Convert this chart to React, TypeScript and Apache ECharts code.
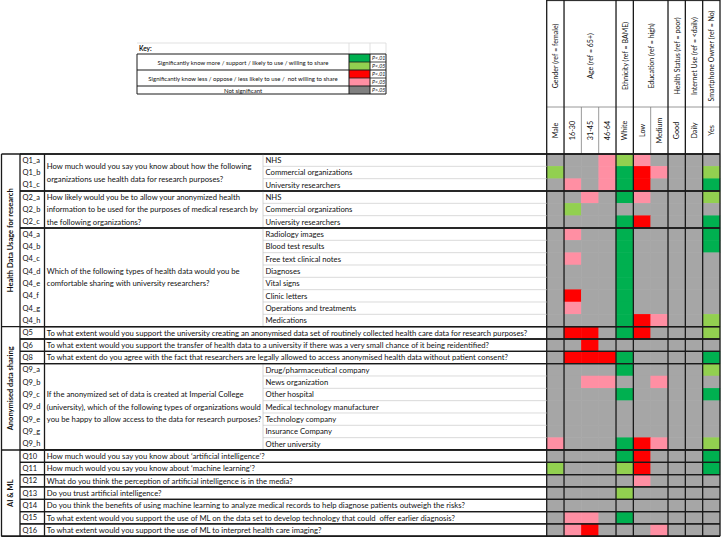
import React, { useEffect, useRef } from "react";
import * as echarts from "echarts";

// ---------- data ----------
const columns = ["Male", "16-30", "31-45", "46-64", "White", "Low", "Medium", "Good", "Daily", "Yes"];
const groupHeaders = [
  "Gender (ref = female)",
  "Age (ref = 65+)",
  "Ethnicity (ref = BAME)",
  "Education (ref = high)",
  "Health Status (ref = poor)",
  "Internet Use (ref = <daily)",
  "Smartphone Owner (ref = No)",
];
const groupSpans = [1, 3, 1, 2, 1, 1, 1];

const rowCodes = [
  "Q1_a", "Q1_b", "Q1_c", "Q2_a", "Q2_b", "Q2_c",
  "Q4_a", "Q4_b", "Q4_c", "Q4_d", "Q4_e", "Q4_f", "Q4_g", "Q4_h",
  "Q5", "Q6", "Q8",
  "Q9_a", "Q9_b", "Q9_c", "Q9_d", "Q9_e", "Q9_g", "Q9_h",
  "Q10", "Q11", "Q12", "Q13", "Q14", "Q15", "Q16",
];

// 0 = not significant, 1 = more p<.01, 2 = more p<.05, 3 = less p<.01, 4 = less p<.05
const sig = [
  [0, 0, 0, 4, 2, 4, 0, 0, 0, 0],
  [2, 0, 0, 4, 1, 3, 4, 0, 0, 2],
  [0, 4, 0, 4, 1, 3, 0, 0, 0, 1],
  [0, 0, 4, 0, 1, 4, 0, 0, 0, 2],
  [0, 2, 0, 0, 0, 0, 0, 0, 0, 0],
  [0, 0, 0, 0, 1, 3, 0, 0, 0, 1],
  [0, 4, 0, 0, 1, 0, 0, 0, 0, 1],
  [0, 0, 0, 0, 1, 0, 0, 0, 0, 1],
  [0, 4, 0, 0, 1, 0, 0, 0, 0, 0],
  [0, 0, 0, 0, 1, 0, 0, 0, 0, 0],
  [0, 0, 0, 0, 1, 0, 0, 0, 0, 0],
  [0, 3, 0, 0, 1, 0, 0, 0, 0, 0],
  [0, 4, 0, 0, 1, 0, 0, 0, 0, 0],
  [0, 0, 0, 0, 1, 3, 4, 0, 0, 2],
  [0, 3, 3, 0, 1, 3, 0, 0, 0, 2],
  [0, 0, 3, 0, 0, 0, 0, 0, 0, 0],
  [0, 3, 3, 3, 1, 0, 0, 0, 0, 1],
  [0, 0, 0, 0, 1, 0, 0, 0, 0, 2],
  [0, 0, 4, 4, 0, 0, 4, 0, 0, 0],
  [0, 0, 0, 0, 1, 0, 0, 0, 0, 1],
  [0, 0, 0, 0, 0, 0, 0, 0, 0, 0],
  [0, 0, 0, 0, 0, 0, 0, 0, 0, 0],
  [0, 0, 0, 0, 0, 0, 0, 0, 0, 0],
  [4, 0, 0, 0, 1, 3, 4, 0, 0, 2],
  [0, 0, 0, 0, 1, 3, 0, 0, 0, 1],
  [2, 0, 0, 0, 2, 3, 0, 0, 0, 1],
  [0, 0, 0, 0, 0, 4, 0, 0, 0, 0],
  [0, 0, 0, 0, 2, 0, 0, 0, 0, 0],
  [0, 0, 0, 0, 0, 0, 0, 0, 0, 0],
  [0, 4, 4, 0, 1, 0, 0, 0, 0, 0],
  [0, 4, 3, 0, 0, 0, 4, 0, 0, 0],
];

const sectionLabels = ["Health Data Usage for research", "Anonymised data sharing", "AI & ML"];
const sectionRowCounts = [14, 10, 7];

// multi-row questions with sub-items
const blockStarts = [0, 3, 6, 17];
const blockTexts = [
  ["How much would you say you know about how the following", "organizations use health data for research purposes?"],
  [
    "How likely would you be to allow your anonymized health",
    "information to be used for the purposes of medical research by",
    "the following organizations?",
  ],
  ["Which of the following types of health data would you be", "comfortable sharing with university researchers?"],
  [
    "If the anonymized set of data is created at Imperial College",
    "(university), which of the following types of organizations would",
    "you be happy to allow access to the data for research purposes?",
  ],
];
const blockItems = [
  ["NHS", "Commercial organizations", "University researchers"],
  ["NHS", "Commercial organizations", "University researchers"],
  [
    "Radiology images", "Blood test results", "Free text clinical notes", "Diagnoses",
    "Vital signs", "Clinic letters", "Operations and treatments", "Medications",
  ],
  [
    "Drug/pharmaceutical company", "News organization", "Other hospital",
    "Medical technology manufacturer", "Technology company", "Insurance Company", "Other university",
  ],
];

// single-row questions
const singleRows = [14, 15, 16, 24, 25, 26, 27, 28, 29, 30];
const singleTexts = [
  "To what extent would you support the university creating an anonymised data set of routinely collected health care data for research purposes?",
  "To what extent would you support the transfer of health data to a university if there was a very small chance of it being reidentified?",
  "To what extent do you agree with the fact that researchers are legally allowed to access anonymised health data without patient consent?",
  "How much would you say you know about \u2018artificial intelligence\u2019?",
  "How much would you say you know about \u2018machine learning\u2019?",
  "What do you think the perception of artificial intelligence is in the media?",
  "Do you trust artificial intelligence?",
  "Do you think the benefits of using machine learning to analyze medical records to help diagnose patients outweigh the risks?",
  "To what extent would you support the use of ML on the data set to develop technology that could  offer earlier diagnosis?",
  "To what extent would you support the use of ML to interpret health care imaging?",
];

const keyLabels = [
  "Significantly know more / support / likely to use / willing to share",
  "Significantly know less / oppose / less likely to use /  not willing to share",
  "Not significant",
];
const keyPLabels = ["P<.01", "P<.05", "P<.01", "P<.05", "P>.05"];

// ---------- styling ----------
const cellColors = ["#A6A6A6", "#00B050", "#92D050", "#FF0000", "#FF8FA3"];
const keyColors = ["#00B050", "#92D050", "#FF0000", "#FF8FA3", "#808080"];
const FONT = "Lato, 'Noto Sans', sans-serif";
const TXT = 7.7;

const GRID_L = 546.7;
const GRID_R = 720;
const GRID_T = 154;
const GRID_B = 536.3;
const X_LEFT = 1.5;
const X_SEC = 20;
const X_Q = 44.5;
const X_SUB = 263;
const HDR_SPLIT = 107;

export default function App() {
  const ref = useRef<HTMLDivElement>(null);

  useEffect(() => {
    if (!ref.current) return;
    const chart = echarts.init(ref.current, undefined, { renderer: "svg" });
    const nRows = rowCodes.length;
    const rowH = (GRID_B - GRID_T) / nRows;
    const colW = (GRID_R - GRID_L) / columns.length;
    const rowY = (i: number) => GRID_T + i * rowH;
    const colX = (j: number) => GRID_L + j * colW;

    const data: number[][] = [];
    sig.forEach((row, i) => row.forEach((v, j) => data.push([j, i, v])));

    const g: any[] = [];
    const line = (x1: number, y1: number, x2: number, y2: number, stroke = "#1a1a1a", w = 1.2) =>
      g.push({ type: "line", z: 100, silent: true, shape: { x1, y1, x2, y2 }, style: { stroke, lineWidth: w } });
    const text = (t: string, x: number, y: number, o: any = {}) =>
      g.push({
        type: "text",
        z: 110,
        silent: true,
        x,
        y,
        rotation: o.rotation || 0,
        style: {
          text: t,
          fill: o.fill || "#111",
          font: `${o.italic ? "italic " : ""}${o.bold ? "bold " : ""}${o.size || TXT}px ${FONT}`,
          textAlign: o.align || "left",
          textVerticalAlign: "middle",
        },
      });

    // ----- key -----
    const kL = 137, kS = 349, kP = 370, kR = 386, kT = 54, kH = 8;
    line(kL, 43, kR, 43, "#d9d9d9", 0.8);
    line(kS, 43, kS, kT, "#d9d9d9", 0.8);
    line(kP, 43, kP, kT, "#d9d9d9", 0.8);
    line(kR, 43, kR, kT, "#d9d9d9", 0.8);
    text("Key:", kL + 2, 48.5, { bold: true, size: 6.5 });
    keyColors.forEach((c, i) => {
      g.push({
        type: "rect",
        z: 90,
        silent: true,
        shape: { x: kS, y: kT + i * kH, width: kP - kS, height: kH },
        style: { fill: c },
      });
      text(keyPLabels[i], kP + 2, kT + (i + 0.5) * kH, { italic: true, size: 5.3 });
    });
    text(keyLabels[0], (kL + kS) / 2, kT + kH, { align: "center", size: 6 });
    text(keyLabels[1], (kL + kS) / 2, kT + 3 * kH, { align: "center", size: 6 });
    text(keyLabels[2], (kL + kS) / 2, kT + 4.5 * kH, { align: "center", size: 6 });
    [0, 2, 4, 5].forEach((i) => line(kL, kT + i * kH, kR, kT + i * kH, "#1a1a1a", 1));
    [1, 3].forEach((i) => line(kS, kT + i * kH, kR, kT + i * kH, "#1a1a1a", 0.8));
    [kL, kS, kP, kR].forEach((x) => line(x, kT, x, kT + 5 * kH, "#1a1a1a", 1));

    // ----- header -----
    let c0 = 0;
    groupHeaders.forEach((h, k) => {
      const span = groupSpans[k];
      const cx = (colX(c0) + colX(c0 + span)) / 2;
      text(h, cx, 56, { rotation: Math.PI / 2, align: "center", size: 7 });
      c0 += span;
    });
    columns.forEach((c, j) => {
      text(c, colX(j) + colW / 2, (HDR_SPLIT + GRID_T) / 2, { rotation: Math.PI / 2, align: "center", size: 7.2 });
    });
    line(GRID_L, 0.6, GRID_R, 0.6, "#1a1a1a", 1);
    line(GRID_L, HDR_SPLIT, GRID_R, HDR_SPLIT, "#7f7f7f", 0.8);
    [2, 3, 6].forEach((j) => line(colX(j), HDR_SPLIT, colX(j), GRID_T, "#7f7f7f", 0.8));
    let acc = 0;
    const groupEdges = [0];
    groupSpans.forEach((s) => {
      acc += s;
      groupEdges.push(acc);
    });
    groupEdges.forEach((j) => line(colX(j), 0, colX(j), GRID_B, "#1a1a1a", 1.3));

    // ----- left table -----
    let r0 = 0;
    sectionLabels.forEach((s, k) => {
      const n = sectionRowCounts[k];
      text(s, (X_LEFT + X_SEC) / 2, (rowY(r0) + rowY(r0 + n)) / 2, {
        rotation: Math.PI / 2,
        align: "center",
        bold: true,
        size: 7.5,
      });
      r0 += n;
      line(X_LEFT, rowY(r0), GRID_R, rowY(r0), "#1a1a1a", 1.4);
    });
    line(X_LEFT, GRID_T, GRID_R, GRID_T, "#1a1a1a", 1.4);

    rowCodes.forEach((c, i) => text(c, X_SEC + 2.5, rowY(i) + rowH / 2, { size: 7.5 }));

    blockStarts.forEach((s, k) => {
      const items = blockItems[k];
      const n = items.length;
      const lines = blockTexts[k];
      const cy = (rowY(s) + rowY(s + n)) / 2;
      lines.forEach((t, li) => text(t, X_Q + 2.3, cy + (li - (lines.length - 1) / 2) * rowH));
      items.forEach((it, ii) => {
        text(it, X_SUB + 2.5, rowY(s + ii) + rowH / 2);
        if (ii > 0) line(X_SUB, rowY(s + ii), GRID_L, rowY(s + ii), "#d0d0d0", 0.8);
      });
      line(X_SUB, rowY(s), X_SUB, rowY(s + n), "#c8c8c8", 0.8);
      line(X_SEC, rowY(s), GRID_R, rowY(s), "#1a1a1a", 1.3);
      line(X_SEC, rowY(s + n), GRID_R, rowY(s + n), "#1a1a1a", 1.3);
    });

    singleRows.forEach((r, k) => {
      text(singleTexts[k], X_Q + 2.3, rowY(r) + rowH / 2);
      line(X_SEC, rowY(r), GRID_R, rowY(r), "#1a1a1a", 1.3);
      line(X_SEC, rowY(r + 1), GRID_R, rowY(r + 1), "#1a1a1a", 1.3);
    });

    [X_LEFT, X_SEC, X_Q].forEach((x) => line(x, GRID_T, x, GRID_B, "#1a1a1a", 1.3));
    line(X_LEFT, GRID_B, GRID_R, GRID_B, "#1a1a1a", 1.4);

    chart.setOption({
      animation: false,
      backgroundColor: "#ffffff",
      grid: { left: GRID_L, top: GRID_T, width: GRID_R - GRID_L, height: GRID_B - GRID_T },
      xAxis: { type: "category", data: columns, show: false },
      yAxis: { type: "category", data: rowCodes, inverse: true, show: false },
      visualMap: {
        type: "piecewise",
        show: false,
        dimension: 2,
        pieces: cellColors.map((c, i) => ({ value: i, color: c })),
      },
      series: [
        {
          type: "heatmap",
          data,
          itemStyle: { borderWidth: 0 },
          emphasis: { disabled: true },
          silent: true,
        },
      ],
      graphic: g,
    });
    return () => chart.dispose();
  }, []);

  return <div ref={ref} style={{ position: "absolute", left: 0, top: 0, width: 722, height: 537 }} />;
}
